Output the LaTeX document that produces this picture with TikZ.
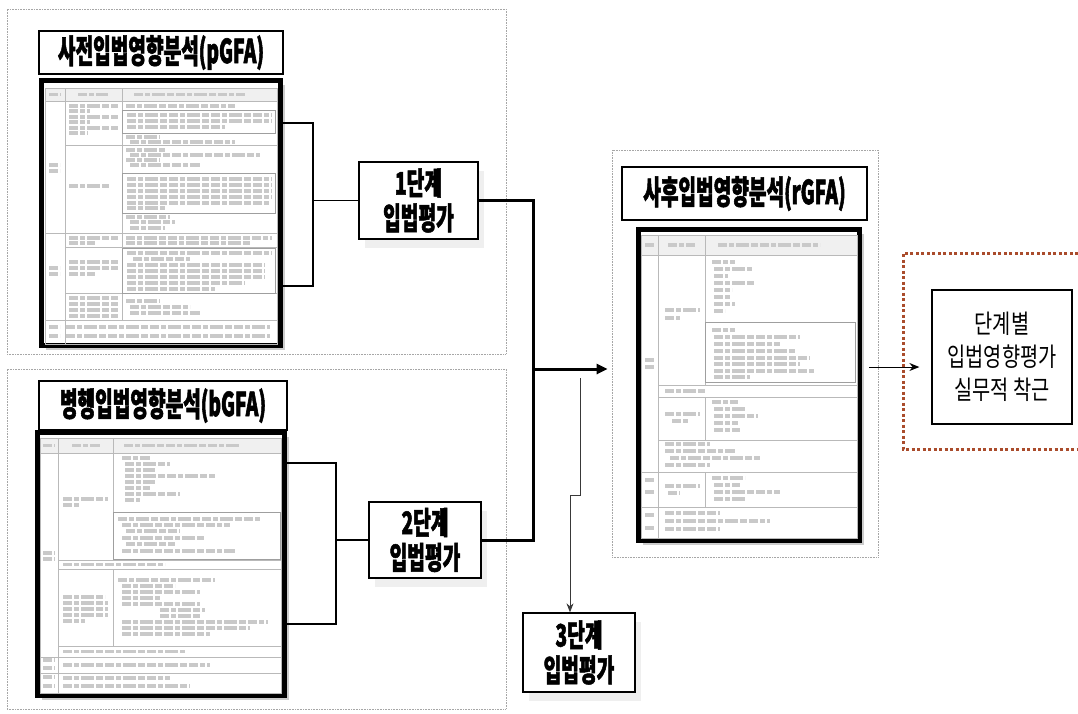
\documentclass[tikz,border=0pt]{standalone}
\usepackage{fontspec}
\newfontfamily\krhead{Noto Sans CJK KR}[FakeStretch=0.62, BoldFeatures={FakeBold=1.6}]
\newfontfamily\krtitle{Noto Sans CJK KR}[FakeStretch=0.58, BoldFeatures={FakeBold=1.6}]
\newfontfamily\krtext{Noto Sans CJK KR}[FakeStretch=0.76]
\usetikzlibrary{arrows.meta,shadows,calc}
\definecolor{rust}{RGB}{170,76,44}

\begin{document}
\begin{tikzpicture}[x=1pt,y=-1pt,
  outer/.style={draw=gray!70, line width=0.8pt, dash pattern=on 0.8pt off 0.8pt, inner sep=0pt},
  titlebox/.style={draw=black, line width=1.3pt, fill=white, inner sep=0pt,
    font=\krtitle\bfseries\fontsize{33}{35}\selectfont},
  frame/.style={draw=black, line width=5pt, fill=white, inner sep=0pt,
    drop shadow={shadow xshift=4pt, shadow yshift=-4pt, opacity=0.4}},
  stagebox/.style={draw=black, line width=1.3pt, fill=white, align=center, inner sep=0pt,
    font=\krhead\bfseries\fontsize{31}{35}\selectfont,
    drop shadow={shadow xshift=6pt, shadow yshift=-9pt, opacity=0.12}},
  endbox/.style={draw=black, line width=1.3pt, fill=white, align=center, inner sep=0pt,
    font=\krtext\fontsize{26}{33}\selectfont},
  link/.style={draw=black, line width=1.3pt},
  heavy/.style={draw=black, line width=3pt},
  thinlink/.style={draw=gray!45!black, line width=0.9pt},
  grid/.style={draw=gray!55, line width=0.7pt},
  cell/.style={draw=gray!75, line width=1pt},
  tl/.style={draw=gray!42, line width=3.2pt,
    dash pattern=on 9pt off 2pt on 5pt off 2pt on 13pt off 2pt on 7pt off 2pt}]

\useasboundingbox (0,0) rectangle (1078,713);
\fill[white] (0,0) rectangle (1078,713);

% ---- group frames ----
\node[outer, minimum width=499pt, minimum height=345pt] (grp1) at (256.5,181.5) {};
\node[outer, minimum width=499pt, minimum height=340pt] (grp2) at (256.5,539) {};
\node[outer, minimum width=266pt, minimum height=407pt] (grp3) at (745,353.5) {};

% ---- pGFA ----
\node[titlebox, minimum width=244pt, minimum height=43pt] (t1) at (161,52.5) {사전입법영향분석(pGFA)};
\node[frame, minimum width=239pt, minimum height=265pt] (tab1) at (161,213) {};
\fill[gray!12] (45,88) rectangle (277,101);
\draw[grid] (45,88) rectangle (277,344)
  (45,101) -- (277,101) (45,233) -- (277,233) (45,320) -- (277,320)
  (65,145) -- (277,145) (65,247) -- (277,247) (65,293) -- (277,293)
  (65,88) -- (65,344) (122,88) -- (122,320);
\draw[cell] (122,110) rectangle (275,133) (122,173) rectangle (275,213) (122,248) rectangle (275,293);
\foreach \y/\a/\b in {94.5/49/61, 94.5/78/108, 94.5/134/245,
  106/126/235, 115/127/272, 121/127/272, 127/127/225, 137/126/160, 142/130/235,
  150/126/165, 155/130/260, 160/126/160, 165/130/200,
  179/127/272, 185/127/272, 191/127/272, 197/127/272, 203/127/270, 208/127/165,
  217/126/170, 222/130/175, 228/130/165, 238/126/272, 243/126/250,
  253/127/272, 259/133/190, 265/127/265, 271/127/265, 277/127/265, 283/127/245, 289/127/215,
  301/126/160, 307/130/190, 313/130/200, 327/66/270, 336/66/270,
  106/69/118, 111/69/90, 117/69/118, 122/69/90, 128/69/118, 133/69/88, 186/69/110,
  238/69/118, 243/69/95, 262/69/118, 268/69/118, 274/69/95,
  298/69/118, 304/69/118, 310/69/118, 316/69/118,
  165/49/60, 171/49/60, 268/49/60, 274/49/60, 327/49/60, 336/49/60}
  \draw[tl] (\a,\y) -- (\b,\y);

% ---- bGFA ----
\node[titlebox, minimum width=248pt, minimum height=49pt] (t2) at (163,405.5) {병행입법영향분석(bGFA)};
\node[frame, minimum width=247pt, minimum height=263pt] (tab2) at (161,564) {};
\fill[gray!12] (40,438) rectangle (281,453);
\draw[grid] (40,438) rectangle (281,693)
  (40,453) -- (281,453) (58,560) -- (281,560) (58,569) -- (281,569) (58,646) -- (281,646)
  (40,657) -- (281,657) (40,673) -- (281,673)
  (58,438) -- (58,693) (113,438) -- (113,560) (113,569) -- (113,646);
\draw[cell] (113,512) rectangle (280,559);
\foreach \y/\a/\b in {445.5/43/55, 445.5/72/100, 445.5/124/240,
  458/122/150, 464/125/170, 470/125/155, 476/125/215, 482/125/155, 488/125/150, 494/125/180, 500/125/140,
  519/118/260, 525/122/230, 531/126/180, 538/122/205, 544/126/175, 551/122/235,
  564.5/63/165,
  580/118/215, 586/122/175, 592/122/200, 598/122/160, 604/122/200, 610/160/205, 616/160/200,
  622/122/268, 628/122/250, 634/122/210,
  597/63/105, 603/63/108, 609/63/108, 615/63/108, 621/63/85,
  651.5/63/185, 665/63/210, 678/63/170, 686/63/190,
  499/63/108, 505/63/80,
  553/43/55, 559/43/55, 660/43/55, 668/43/55, 677/43/55, 686/43/55}
  \draw[tl] (\a,\y) -- (\b,\y);

% ---- rGFA ----
\node[titlebox, minimum width=245pt, minimum height=53pt] (t3) at (744.5,193.5) {사후입법영향분석(rGFA)};
\node[frame, minimum width=221pt, minimum height=311pt] (tab3) at (749,385) {};
\fill[gray!12] (641,235) rectangle (857,255);
\draw[grid] (641,235) rectangle (857,538)
  (641,255) -- (857,255) (658,385) -- (857,385) (658,397) -- (857,397) (658,440) -- (857,440)
  (641,472) -- (857,472) (641,507) -- (857,507)
  (658,235) -- (658,538) (705,235) -- (705,385) (705,397) -- (705,440) (705,472) -- (705,507);
\draw[cell] (705,322) rectangle (855,382);
\foreach \y/\a/\b in {245/645/655, 245/668/695, 245/718/820,
  262/712/735, 269/714/752, 276/714/728, 283/714/755, 290/714/732, 297/714/730, 304/714/735, 311/714/725,
  330/712/735, 337/714/800, 344/714/780, 351/714/795, 358/714/810, 364/714/800, 371/714/815, 377/714/750,
  391/665/705, 414/665/700, 421/672/688,
  402/712/738, 409/714/745, 416/714/758, 423/714/738, 430/714/740,
  444/665/710, 451/665/735, 458/670/760, 465/665/710,
  310/665/700, 318/665/680, 360/645/655, 367/645/655,
  480/645/655, 492/645/655, 486/665/700, 493/668/680,
  478/712/745, 485/714/740, 492/714/780, 499/714/745,
  515/645/655, 528/645/655, 513/665/720, 521/665/770, 529/665/720}
  \draw[tl] (\a,\y) -- (\b,\y);

% ---- stage boxes ----
\node[stagebox, minimum width=119pt, minimum height=77pt] (s1) at (418.5,200.5) {1단계\\입법평가};
\node[stagebox, minimum width=112pt, minimum height=76pt] (s2) at (425,540) {2단계\\입법평가};
\node[stagebox, minimum width=112pt, minimum height=79pt] (s3) at (579,652.5) {3단계\\입법평가};

% ---- final box ----
\draw[rust, line width=3pt, dash pattern=on 3pt off 2.5pt] (1078,253) -- (903,253) -- (903,449) -- (1078,449);
\node[endbox, minimum width=140pt, minimum height=134pt] (fin) at (1002,357) {단계별\\입법영향평가\\실무적 착근};

% ---- connectors ----
\coordinate (b1t) at (283,123);
\coordinate (b1b) at (283,286);
\coordinate (b1m) at (313,200.5);
\draw[link] (b1t) -| (b1m) |- (b1b);
\draw[link] (b1m) -- (s1.west);

\coordinate (b2t) at (287,463);
\coordinate (b2b) at (287,624);
\coordinate (b2m) at (336,540);
\draw[link] (b2t) -| (b2m) |- (b2b);
\draw[link] (b2m) -- (s2.west);

\coordinate (jx) at (533,369);
\draw[heavy] (s1.east) -| (jx) |- (s2.east);
\draw[heavy, shorten >=4pt, -{Triangle[length=11pt,width=10pt]}] (jx) -- (jx -| grp3.west);

\coordinate (c3a) at (580,378);
\coordinate (c3b) at (570,495);
\draw[thinlink, -{Stealth[length=9pt,width=7pt]}] (c3a) |- (c3b) -- (c3b |- s3.north);

\coordinate (fa) at (869,367);
\draw[link, line width=1pt, shorten >=12pt, -{Stealth[length=10pt,width=8pt]}] (fa) -- (fa -| fin.west);

\end{tikzpicture}
\end{document}
